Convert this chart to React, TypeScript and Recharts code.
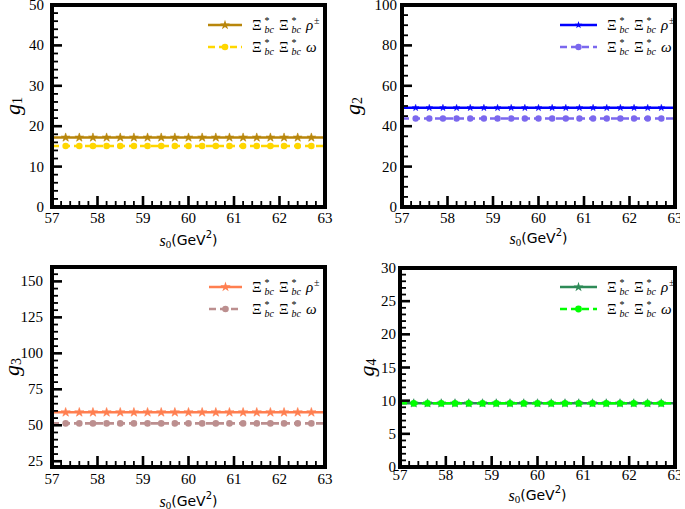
import React from 'react';
import { ComposedChart, Line, Scatter, XAxis, YAxis, Legend } from 'recharts';

// s0 grid (GeV^2)
const s0 = [57, 57.3, 57.6, 57.9, 58.2, 58.5, 58.8, 59.1, 59.4, 59.7, 60, 60.3, 60.6, 60.9, 61.2, 61.5, 61.8, 62.1, 62.4, 62.7, 63];

// coupling constants
const g1Rho = [17.2, 17.2, 17.2, 17.2, 17.2, 17.2, 17.2, 17.2, 17.2, 17.2, 17.2, 17.2, 17.2, 17.2, 17.2, 17.2, 17.2, 17.2, 17.2, 17.2, 17.2];
const g1Omega = [15.1, 15.1, 15.1, 15.1, 15.1, 15.1, 15.1, 15.1, 15.1, 15.1, 15.1, 15.1, 15.1, 15.1, 15.1, 15.1, 15.1, 15.1, 15.1, 15.1, 15.1];
const g2Rho = [49.1, 49.1, 49.1, 49.1, 49.1, 49.1, 49.1, 49.1, 49.1, 49.1, 49.1, 49.1, 49.1, 49.1, 49.1, 49.1, 49.1, 49.1, 49.1, 49.1, 49.1];
const g2Omega = [43.8, 43.8, 43.8, 43.8, 43.8, 43.8, 43.8, 43.8, 43.8, 43.8, 43.8, 43.8, 43.8, 43.8, 43.8, 43.8, 43.8, 43.8, 43.8, 43.8, 43.8];
const g3Rho = [59.0, 59.0, 59.0, 59.0, 59.0, 59.0, 59.0, 59.0, 59.0, 59.0, 59.0, 59.0, 59.0, 59.0, 59.0, 59.0, 59.0, 59.0, 59.0, 59.0, 59.0];
const g3Omega = [51.3, 51.3, 51.3, 51.3, 51.3, 51.3, 51.3, 51.3, 51.3, 51.3, 51.3, 51.3, 51.3, 51.3, 51.3, 51.3, 51.3, 51.3, 51.3, 51.3, 51.3];
const g4Rho = [9.6, 9.6, 9.6, 9.6, 9.6, 9.6, 9.6, 9.6, 9.6, 9.6, 9.6, 9.6, 9.6, 9.6, 9.6, 9.6, 9.6, 9.6, 9.6, 9.6, 9.6];
const g4Omega = [9.6, 9.6, 9.6, 9.6, 9.6, 9.6, 9.6, 9.6, 9.6, 9.6, 9.6, 9.6, 9.6, 9.6, 9.6, 9.6, 9.6, 9.6, 9.6, 9.6, 9.6];

// tick labels
const xMajor = [57, 58, 59, 60, 61, 62, 63];
const g1Major = [0, 10, 20, 30, 40, 50];
const g2Major = [0, 20, 40, 60, 80, 100];
const g3Major = [25, 50, 75, 100, 125, 150];
const g4Major = [0, 5, 10, 15, 20, 25, 30];

const W = 340;
const H = 254;
const SERIF = '"Liberation Serif", "DejaVu Serif", serif';
const SANS = '"DejaVu Sans", "Liberation Sans", sans-serif';

const panels = [
    {
        n: 1, rho: g1Rho, omega: g1Omega, rhoColor: '#b8860b', omegaColor: '#ffd700',
        yDomain: [0, 50], yMajor: g1Major, yFrom: 0, yStep: 2,
        left: 0, top: 0, plot: { l: 52, r: 325, t: 5, b: 207 },
        yPad: 8, xPad: 11, xLabelY: 240, yLabelX: 12,
        legend: { x: 208, y: 14, w: 34 }, starR: 4.6, dotR: 3.3,
    },
    {
        n: 2, rho: g2Rho, omega: g2Omega, rhoColor: '#0000ff', omegaColor: '#7b68ee',
        yDomain: [0, 100], yMajor: g2Major, yFrom: 0, yStep: 5,
        left: 340, top: 0, plot: { l: 62, r: 335, t: 5, b: 207 },
        yPad: 5, xPad: 11, xLabelY: 238, yLabelX: 12,
        legend: { x: 220, y: 14, w: 37 }, starR: 3.4, dotR: 3.2,
    },
    {
        n: 3, rho: g3Rho, omega: g3Omega, rhoColor: '#ff7f50', omegaColor: '#bc8f8f',
        yDomain: [21, 160], yMajor: g3Major, yFrom: 25, yStep: 5,
        left: 0, top: 255, plot: { l: 52, r: 325, t: 12, b: 212 },
        yPad: 9, xPad: 12, xLabelY: 246, yLabelX: 11,
        legend: { x: 209, y: 21, w: 33 }, starR: 4.8, dotR: 3.3,
    },
    {
        n: 4, rho: g4Rho, omega: g4Omega, rhoColor: '#2e8b57', omegaColor: '#00ff00',
        yDomain: [0, 30], yMajor: g4Major, yFrom: 0, yStep: 1,
        left: 340, top: 255, plot: { l: 60, r: 335, t: 13, b: 212 },
        yPad: 4, xPad: 8, xLabelY: 240, yLabelX: 26,
        legend: { x: 220, y: 21, w: 37 }, starR: 4.6, dotR: 3.4,
    },
];

function range(from: number, to: number, step: number) {
    const out: number[] = [];
    const n = Math.round((to - from) / step);
    for (let i = 0; i <= n; i++) out.push(Math.round((from + i * step) * 1000) / 1000);
    return out;
}

function isMajor(v: number, majors: number[]) {
    return majors.some((m) => Math.abs(m - v) < 1e-6);
}

function starPath(cx: number, cy: number, R: number) {
    const r = R * 0.382;
    let d = '';
    for (let i = 0; i < 10; i++) {
        const rad = i % 2 === 0 ? R : r;
        const a = -Math.PI / 2 + (i * Math.PI) / 5;
        d += (i === 0 ? 'M' : 'L') + (cx + rad * Math.cos(a)).toFixed(2) + ',' + (cy + rad * Math.sin(a)).toFixed(2);
    }
    return d + 'Z';
}

const starDot = (color: string, R: number) => (p: any) => {
    const { cx, cy, index } = p;
    if (index === 0 || index === s0.length - 1) return <g key={index} />;
    return <path key={index} d={starPath(cx, cy, R)} fill={color} stroke={color} strokeWidth={0.6} />;
};

const circleDot = (color: string, r: number) => (p: any) => {
    const { cx, cy, index } = p;
    if (index === 0 || index === s0.length - 1) return <g key={index} />;
    return <circle key={index} cx={cx} cy={cy} r={r} fill={color} stroke="none" />;
};

// inward tick marks, drawn from the axis edge
const bottomTick = (p: any) => {
    const len = p.payload.major ? 11 : 6;
    return <path d={`M${p.cx},${p.cy}V${p.cy - len}`} stroke="#000" strokeWidth={p.payload.major ? 2.6 : 1.8} fill="none" />;
};
const leftTick = (p: any) => {
    const len = p.payload.major ? 10 : 6;
    return <path d={`M${p.cx},${p.cy}H${p.cx + len}`} stroke="#000" strokeWidth={p.payload.major ? 2.6 : 1.8} fill="none" />;
};

// Xi*_bc Xi*_bc + last symbol, set as svg text
function LegendText({ x0, base, last }: { x0: number; base: number; last: 'rho' | 'omega' }) {
    return (
        <text fontFamily={SERIF} fontSize={15} fill="#000">
            <tspan x={x0} y={base}>Ξ</tspan>
            <tspan x={x0 + 12.5} y={base - 6} fontSize={10}>*</tspan>
            <tspan x={x0 + 12.5} y={base + 3} fontSize={10} fontStyle="italic">bc</tspan>
            <tspan x={x0 + 27} y={base}>Ξ</tspan>
            <tspan x={x0 + 39.5} y={base - 6} fontSize={10}>*</tspan>
            <tspan x={x0 + 39.5} y={base + 3} fontSize={10} fontStyle="italic">bc</tspan>
            {last === 'rho' ? (
                <>
                    <tspan x={x0 + 54} y={base} fontStyle="italic">ρ</tspan>
                    <tspan x={x0 + 62} y={base - 6} fontSize={10}>±</tspan>
                </>
            ) : (
                <tspan x={x0 + 54} y={base} fontStyle="italic">ω</tspan>
            )}
        </text>
    );
}

function LegendBox({ cfg }: { cfg: any }) {
    const w = cfg.legend.w;
    const x0 = w + 10;
    return (
        <svg width={130} height={44} style={{ display: 'block', overflow: 'visible' }}>
            <line x1={0} x2={w} y1={11} y2={11} stroke={cfg.rhoColor} strokeWidth={2.6} />
            <path d={starPath(w / 2, 11, cfg.starR + 0.6)} fill={cfg.rhoColor} />
            <LegendText x0={x0} base={16} last="rho" />
            <line x1={0} x2={w} y1={33} y2={33} stroke={cfg.omegaColor} strokeWidth={2.6} strokeDasharray="7 4" />
            <circle cx={w / 2} cy={33} r={cfg.dotR} fill={cfg.omegaColor} />
            <LegendText x0={x0} base={38} last="omega" />
        </svg>
    );
}

function Panel({ cfg }: { cfg: any }) {
    const data = s0.map((x, i) => ({ s0: x, rho: cfg.rho[i], omega: cfg.omega[i] }));
    const { l, r, t, b } = cfg.plot;
    const xTickData = range(57, 63, 0.2).map((x) => ({ s0: x, v: cfg.yDomain[0], major: isMajor(x, xMajor) }));
    const yTickData = range(cfg.yFrom, cfg.yDomain[1], cfg.yStep).map((y) => ({ s0: 57, v: y, major: isMajor(y, cfg.yMajor) }));

    const XLabel = (p: any) => (
        <text x={p.x} y={p.y} textAnchor="middle" dominantBaseline="central" style={{ fontFamily: SERIF, fontSize: 15 }} fill="#000">
            {p.payload.value}
        </text>
    );
    const YLabel = (p: any) => (
        <text x={p.x} y={p.y} textAnchor="end" dominantBaseline="central" style={{ fontFamily: SERIF, fontSize: 15 }} fill="#000">
            {p.payload.value}
        </text>
    );

    return (
        <div style={{ position: 'absolute', left: cfg.left, top: cfg.top, width: W, height: H }}>
            <ComposedChart width={W} height={H} data={data} margin={{ top: t, right: W - r, left: 0, bottom: 0 }}>
                <XAxis
                    dataKey="s0" type="number" domain={[57, 63]} ticks={xMajor} interval={0}
                    allowDataOverflow height={H - b} axisLine={false} tickLine={false}
                    tickSize={0} tickMargin={cfg.xPad} tick={XLabel}
                    label={{
                        content: () => (
                            <text x={(l + r) / 2} y={cfg.xLabelY} textAnchor="middle" dominantBaseline="central" fill="#000">
                                <tspan fontFamily={SERIF} fontStyle="italic" fontSize={16}>s</tspan>
                                <tspan fontFamily={SERIF} fontSize={11} dy={4}>0</tspan>
                                <tspan fontFamily={SANS} fontSize={14} dy={-4}>(GeV</tspan>
                                <tspan fontFamily={SANS} fontSize={10} dy={-6}>2</tspan>
                                <tspan fontFamily={SANS} fontSize={14} dy={6}>)</tspan>
                            </text>
                        ),
                    }}
                />
                <YAxis
                    dataKey="v" type="number" domain={cfg.yDomain} ticks={cfg.yMajor} interval={0}
                    allowDataOverflow width={l} axisLine={false} tickLine={false}
                    tickSize={0} tickMargin={cfg.yPad} tick={YLabel}
                    label={{
                        content: () => (
                            <text
                                x={cfg.yLabelX} y={(t + b) / 2} textAnchor="middle" dominantBaseline="central"
                                transform={`rotate(-90 ${cfg.yLabelX} ${(t + b) / 2})`} fill="#000"
                            >
                                <tspan fontFamily={SERIF} fontStyle="italic" fontSize={22}>g</tspan>
                                <tspan fontFamily={SERIF} fontSize={14} dy={5}>{cfg.n}</tspan>
                            </text>
                        ),
                    }}
                />
                <Legend
                    verticalAlign="middle" align="center" layout="horizontal"
                    wrapperStyle={{ left: cfg.legend.x, top: cfg.legend.y, width: 130 }}
                    content={() => <LegendBox cfg={cfg} />}
                />
                <Scatter data={xTickData} dataKey="v" shape={bottomTick} isAnimationActive={false} legendType="none" />
                <Scatter data={yTickData} dataKey="v" shape={leftTick} isAnimationActive={false} legendType="none" />
                <Line
                    type="linear" dataKey="rho" stroke={cfg.rhoColor} strokeWidth={2.6}
                    dot={starDot(cfg.rhoColor, cfg.starR)} activeDot={false} isAnimationActive={false}
                />
                <Line
                    type="linear" dataKey="omega" stroke={cfg.omegaColor} strokeWidth={2.6} strokeDasharray="7 4"
                    dot={circleDot(cfg.omegaColor, cfg.dotR)} activeDot={false} isAnimationActive={false}
                />
            </ComposedChart>
            {/* plot frame */}
            <div
                style={{
                    position: 'absolute', left: l - 2, top: t - 2, width: r - l + 4, height: b - t + 4,
                    border: '4px solid #000', boxSizing: 'border-box', pointerEvents: 'none',
                }}
            />
        </div>
    );
}

export default function App() {
    return (
        <div style={{ position: 'absolute', left: 0, top: 0, width: 685, height: 509, background: '#fff' }}>
            {panels.map((cfg) => (
                <Panel key={cfg.n} cfg={cfg} />
            ))}
        </div>
    );
}
